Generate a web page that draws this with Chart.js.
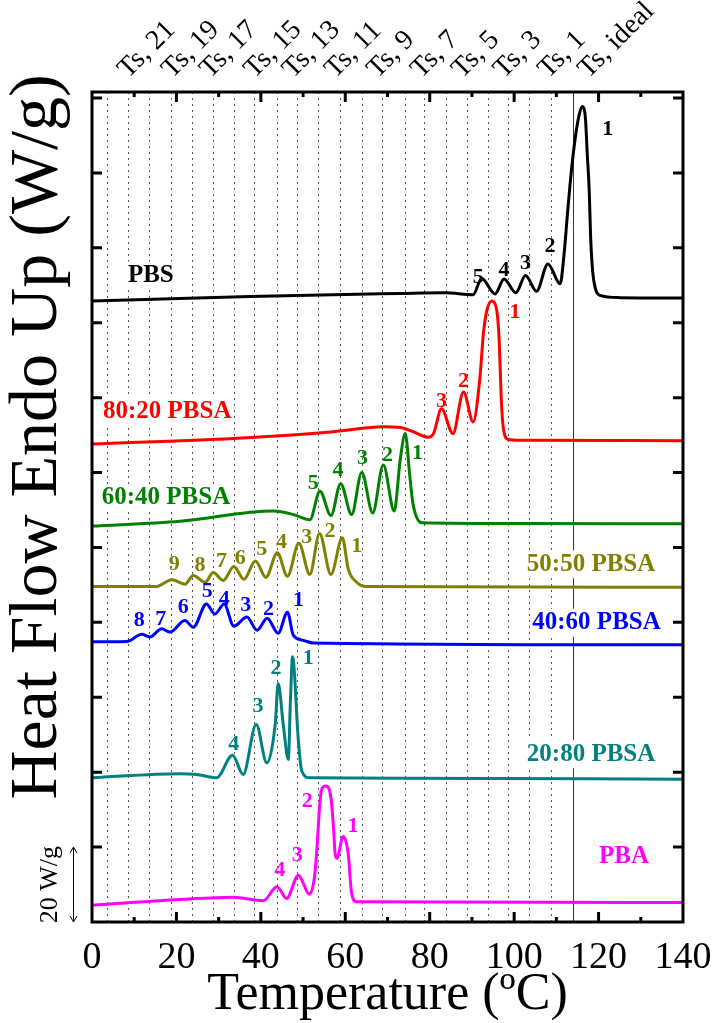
<!DOCTYPE html>
<html>
<head>
<meta charset="utf-8">
<script src="https://cdn.jsdelivr.net/npm/chart.js@4.4.1/dist/chart.umd.min.js"></script>
<style>
  html, body { margin: 0; padding: 0; background: #fff; }
  #wrap { width: 717px; height: 1023px; position: relative; }
</style>
</head>
<body>
<div id="wrap"><canvas id="dsc"></canvas></div>
<script>
// temperature (deg C) and heat flow (W/g, curves stacked with offsets)
const pbsT = [0, 37.4, 73.0, 83.6, 90.3, 92.3, 95.5, 97.6, 100.4, 102.7, 105.3, 108.0, 110.9, 111.8, 112.7, 113.6, 114.5, 115.4, 116.2, 116.9, 117.3, 117.8, 118.1, 118.6, 119.2, 120.3, 125.1, 140];
const pbsHF = [165.8, 167.0, 167.8, 168.0, 167.5, 171.8, 167.7, 171.7, 168.0, 172.6, 168.4, 175.7, 170.4, 178.0, 190.0, 201.0, 209.5, 215.5, 217.7, 214.4, 205.5, 194.9, 183.4, 173.7, 169.3, 167.3, 166.7, 166.6];

const p8020T = [0, 33.5, 57.2, 69.0, 73.0, 76.1, 79.7, 80.9, 82.8, 85.5, 88.0, 90.3, 91.9, 92.7, 93.5, 94.7, 95.9, 96.5, 96.9, 97.4, 98.6, 101.4, 140];
const p8020HF = [127.6, 129.1, 130.9, 132.2, 132.0, 130.9, 129.4, 130.4, 137.0, 130.4, 141.5, 133.5, 145.4, 156.9, 163.1, 165.8, 163.1, 154.3, 141.0, 132.2, 128.8, 128.6, 128.5];

const p6040T = [0, 20.9, 43.0, 47.7, 51.6, 54.0, 56.6, 58.9, 61.5, 63.9, 66.5, 69.0, 71.6, 73.0, 74.2, 75.3, 76.0, 78.1, 101.4, 140];
const p6040HF = [105.7, 107.0, 109.7, 108.8, 107.4, 115.0, 108.5, 117.0, 108.8, 120.0, 109.2, 122.0, 109.7, 123.3, 130.4, 118.9, 111.9, 106.6, 106.4, 106.3];

const p5050T = [0, 15.3, 18.9, 22.0, 24.0, 26.8, 28.7, 31.1, 33.6, 36.0, 38.7, 41.2, 43.9, 46.3, 49.0, 51.6, 53.9, 56.6, 59.3, 60.7, 62.7, 64.7, 140];
const p5050HF = [89.6, 89.6, 91.4, 90.2, 92.5, 90.7, 93.3, 91.2, 94.9, 91.5, 96.4, 92.0, 98.6, 92.3, 101.1, 92.8, 103.7, 92.8, 102.6, 94.2, 90.7, 89.6, 89.4];

const p4060T = [0, 8.2, 11.8, 13.7, 16.5, 18.5, 22.0, 24.0, 27.1, 29.1, 31.3, 33.6, 36.7, 39.1, 41.5, 44.1, 46.3, 47.7, 50.1, 52.4, 140];
const p4060HF = [74.8, 74.9, 76.8, 76.1, 78.3, 77.4, 80.5, 78.7, 84.9, 82.2, 84.9, 79.0, 81.4, 77.9, 81.1, 77.1, 82.7, 76.5, 75.2, 74.5, 74.0];

const p2080T = [0, 20.9, 24.8, 29.5, 33.3, 35.8, 38.9, 41.4, 43.4, 44.1, 45.3, 46.5, 47.0, 47.5, 48.9, 49.7, 51.6, 73.0, 140];
const p2080HF = [38.5, 39.6, 39.4, 38.5, 44.5, 39.4, 52.7, 42.5, 52.8, 63.7, 52.8, 43.4, 58.9, 70.8, 48.2, 40.3, 38.5, 38.4, 38.1];

const pbaT = [0, 20.9, 33.5, 40.6, 43.8, 46.1, 48.9, 51.5, 52.8, 53.4, 53.9, 54.4, 55.4, 56.6, 57.2, 57.6, 58.0, 59.5, 60.7, 61.5, 62.7, 140];
const pbaHF = [4.5, 6.0, 6.6, 5.7, 9.4, 6.3, 12.5, 7.4, 12.9, 21.7, 30.6, 35.4, 36.3, 33.2, 25.3, 18.2, 17.0, 22.8, 18.2, 7.6, 5.4, 5.2];

const seriesNames = ['PBS', '80:20 PBSA', '60:40 PBSA', '50:50 PBSA', '40:60 PBSA', '20:80 PBSA', 'PBA'];
const seriesColors = ['#000000', '#ff0000', '#008000', '#808000', '#0000ff', '#008080', '#ff00ff'];
const seriesT = [pbsT, p8020T, p6040T, p5050T, p4060T, p2080T, pbaT];
const seriesHF = [pbsHF, p8020HF, p6040HF, p5050HF, p4060HF, p2080HF, pbaHF];

// Ts lines (dotted) and the ideal one (solid)
const tsLines = [3.5, 8.5, 13.5, 18.6, 23.6, 28.6, 33.7, 38.3, 43.8, 48.5, 53.5, 58.7, 64.0, 68.7, 74.2, 78.7, 83.8, 88.9, 93.8, 98.5, 103.6, 108.7];
const tsIdeal = 114;
// top labels
const tsTickValues = [5.0, 15.4, 24.4, 34.9, 44.0, 54.0, 64.0, 74.4, 84.1, 94.0, 104.5, 114];
const tsTickLabels = ['Ts, 21', 'Ts, 19', 'Ts, 17', 'Ts, 15', 'Ts, 13', 'Ts, 11', 'Ts, 9', 'Ts, 7', 'Ts, 5', 'Ts, 3', 'Ts, 1', 'Ts, ideal'];

// where the curve names sit (left edge, data units)
const nameAnchors = [[8.5, 172.6], [2.6, 136.2], [2.3, 113.2], [103.0, 95.5], [104.3, 79.9], [103.0, 44.8], [120.1, 17.6]];

// peak numbers: [text, T, HF]
const peakMarks = [
    [['1', 122.2, 211.7], ['2', 108.5, 180.3], ['3', 102.7, 175.9], ['4', 97.6, 174.0], ['5', 91.5, 172.1]],
    [['1', 100.2, 162.7], ['2', 88.0, 144.4], ['3', 82.8, 139.1]],
    [['1', 77.1, 125.1], ['2', 70.0, 124.7], ['3', 64.1, 123.8], ['4', 58.3, 120.7], ['5', 52.4, 117.2]],
    [['1', 62.7, 100.4], ['2', 56.4, 104.4], ['3', 50.9, 102.6], ['4', 44.9, 101.3], ['5', 40.2, 99.5], ['6', 35.1, 97.0], ['7', 30.7, 96.4], ['8', 25.6, 95.1], ['9', 19.5, 95.5]],
    [['1', 48.9, 85.8], ['2', 41.8, 83.6], ['3', 36.4, 84.6], ['4', 31.3, 86.2], ['5', 27.3, 88.4], ['6', 21.6, 84.0], ['7', 16.3, 80.9], ['8', 11.2, 80.5]],
    [['1', 51.2, 70.3], ['2', 43.6, 67.7], ['3', 39.3, 57.5], ['4', 33.6, 47.5]],
    [['1', 61.8, 25.5], ['2', 51.0, 32.3], ['3', 48.6, 17.8], ['4', 44.5, 13.8]]
];

const SERIF = '"Liberation Serif", "Times New Roman", serif';

const dscDecor = {
    id: 'dscDecor',
    beforeDatasetsDraw(chart) {
        const {ctx, chartArea: a, scales: {x}} = chart;
        ctx.save();
        ctx.lineWidth = 1;
        ctx.strokeStyle = '#555';
        ctx.setLineDash([2, 4]);
        tsLines.forEach(t => {
            const px = Math.round(x.getPixelForValue(t)) + 0.5;
            ctx.beginPath();
            ctx.moveTo(px, a.top);
            ctx.lineTo(px, a.bottom);
            ctx.stroke();
        });
        ctx.setLineDash([]);
        ctx.strokeStyle = '#333';
        const pi = Math.round(x.getPixelForValue(tsIdeal)) + 0.5;
        ctx.beginPath();
        ctx.moveTo(pi, a.top);
        ctx.lineTo(pi, a.bottom);
        ctx.stroke();
        ctx.restore();
    },
    afterDatasetsDraw(chart) {
        const {ctx, scales: {x, y}} = chart;
        ctx.save();
        // curve names on white boxes
        ctx.font = 'bold 25px ' + SERIF;
        ctx.textAlign = 'left';
        ctx.textBaseline = 'middle';
        seriesNames.forEach((name, i) => {
            const px = x.getPixelForValue(nameAnchors[i][0]);
            const py = y.getPixelForValue(nameAnchors[i][1]);
            const w = ctx.measureText(name).width;
            ctx.fillStyle = '#fff';
            ctx.fillRect(px - 2, py - 14, w + 4, 28);
            ctx.fillStyle = seriesColors[i];
            ctx.fillText(name, px, py);
        });
        // peak numbers
        ctx.font = 'bold 22px ' + SERIF;
        ctx.textAlign = 'center';
        peakMarks.forEach((marks, i) => {
            ctx.fillStyle = seriesColors[i];
            marks.forEach(m => ctx.fillText(m[0], x.getPixelForValue(m[1]), y.getPixelForValue(m[2])));
        });
        ctx.restore();
    },
    afterDraw(chart) {
        const {ctx, chartArea: a, scales: {x, x2, y}} = chart;
        ctx.save();
        ctx.strokeStyle = '#000';
        ctx.lineWidth = 3;
        // inward ticks
        for (let v = 10; v < 140; v += 10) {
            const px = x.getPixelForValue(v);
            const len = v % 20 === 0 ? 10 : 5;
            ctx.beginPath();
            ctx.moveTo(px, a.bottom); ctx.lineTo(px, a.bottom - len);
            ctx.moveTo(px, a.top); ctx.lineTo(px, a.top + len);
            ctx.stroke();
        }
        for (let v = 20; v <= 220; v += 20) {
            const py = y.getPixelForValue(v);
            ctx.beginPath();
            ctx.moveTo(a.left, py); ctx.lineTo(a.left + 10, py);
            ctx.moveTo(a.right, py); ctx.lineTo(a.right - 10, py);
            ctx.stroke();
        }
        ctx.strokeRect(a.left, a.top, a.right - a.left, a.bottom - a.top);

        ctx.fillStyle = '#000';

        // Ts labels along the top, slanted
        ctx.font = '28px ' + SERIF;
        ctx.textAlign = 'left';
        ctx.textBaseline = 'alphabetic';
        tsTickValues.forEach((v, i) => {
            ctx.save();
            ctx.translate(x2.getPixelForValue(v) + 15, a.top - 13);
            ctx.rotate(-Math.PI / 4);
            ctx.fillText(tsTickLabels[i], 0, 0);
            ctx.restore();
        });

        // y title
        ctx.font = '68px ' + SERIF;
        ctx.textAlign = 'center';
        ctx.textBaseline = 'middle';
        ctx.save();
        ctx.translate(38, 437);
        ctx.rotate(-Math.PI / 2);
        ctx.fillText('Heat Flow Endo Up (W/g)', 0, 0);
        ctx.restore();

        // 20 W/g scale bar
        const y0 = y.getPixelForValue(0), y20 = y.getPixelForValue(20);
        ctx.save();
        ctx.font = '26px ' + SERIF;
        ctx.translate(50, (y0 + y20) / 2);
        ctx.rotate(-Math.PI / 2);
        ctx.fillText('20 W/g', 0, 0);
        ctx.restore();
        ctx.lineWidth = 1;
        ctx.beginPath();
        ctx.moveTo(73.5, y20); ctx.lineTo(73.5, y0);
        ctx.moveTo(70, y20 + 6); ctx.lineTo(73.5, y20); ctx.lineTo(77, y20 + 6);
        ctx.moveTo(70, y0 - 6); ctx.lineTo(73.5, y0); ctx.lineTo(77, y0 - 6);
        ctx.stroke();
        ctx.restore();
    }
};

new Chart(
    document.getElementById('dsc'),
    {
        type: 'line',
        data: {
            datasets: seriesNames.map((name, i) => ({
                label: name,
                data: seriesT[i].map((t, j) => ({x: t, y: seriesHF[i][j]})),
                borderColor: seriesColors[i],
                borderWidth: 3,
                pointRadius: 0,
                fill: false,
                cubicInterpolationMode: 'monotone'
            }))
        },
        options: {
            responsive: true,
            maintainAspectRatio: false,
            animation: false,
            layout: {padding: {left: 0, right: 34, top: 0, bottom: 0}},
            plugins: {
                legend: {display: false},
                tooltip: {enabled: false}
            },
            scales: {
                x: {
                    type: 'linear',
                    position: 'bottom',
                    min: 0,
                    max: 140,
                    grid: {display: false, drawTicks: false},
                    border: {display: false},
                    ticks: {stepSize: 20, padding: 13, color: '#000', font: {family: SERIF, size: 38}},
                    title: {display: true, text: 'Temperature (ºC)', color: '#000', padding: 0, font: {family: SERIF, size: 52, lineHeight: 1.05}},
                    afterFit: s => { s.height = 101; s.paddingLeft = 0; s.paddingRight = 0; }
                },
                x2: {
                    type: 'linear',
                    position: 'top',
                    min: 0,
                    max: 140,
                    grid: {display: false, drawTicks: false},
                    border: {display: false},
                    ticks: {display: false},
                    afterFit: s => { s.height = 92; s.paddingLeft = 0; s.paddingRight = 0; }
                },
                y: {
                    min: 0,
                    max: 221.6,
                    grid: {display: false, drawTicks: false},
                    border: {display: false},
                    ticks: {display: false},
                    afterFit: s => { s.width = 92; }
                }
            }
        },
        plugins: [dscDecor]
    }
)
</script>
</body>
</html>
